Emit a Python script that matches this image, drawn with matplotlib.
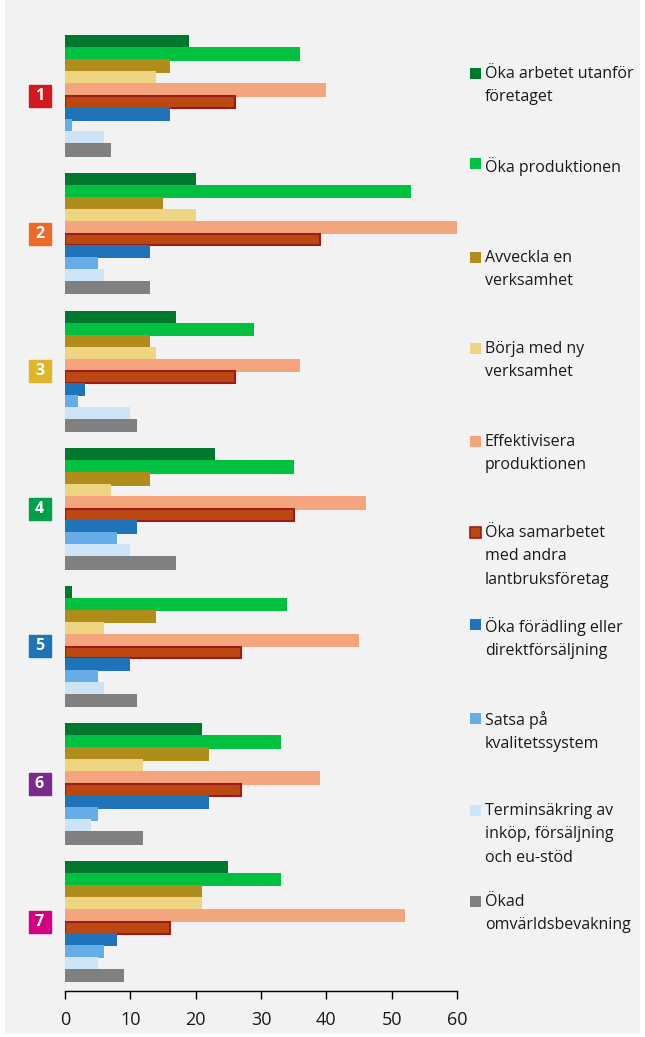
import numpy as np
import matplotlib.pyplot as plt
from matplotlib.patches import Rectangle
from matplotlib.transforms import blended_transform_factory

plt.rcParams["font.family"] = ["Open Sans", "DejaVu Sans"]

# ── Data ──────────────────────────────────────────────────────────────────────
groups = ["1", "2", "3", "4", "5", "6", "7"]
group_colors = ["#d1191f", "#ee6a2b", "#e0b52a", "#00a04a",
                "#1f73b7", "#7b2a8c", "#d4007f"]

series_labels = [
    "Öka arbetet utanför\nföretaget",
    "Öka produktionen",
    "Avveckla en\nverksamhet",
    "Börja med ny\nverksamhet",
    "Effektivisera\nproduktionen",
    "Öka samarbetet\nmed andra\nlantbruksföretag",
    "Öka förädling eller\ndirektförsäljning",
    "Satsa på\nkvalitetssystem",
    "Terminsäkring av\ninköp, försäljning\noch eu-stöd",
    "Ökad\nomvärldsbevakning",
]
series_colors = ["#00782e", "#00c040", "#b08c1a", "#eed582", "#f4a57e",
                 "#bb4810", "#1e73b9", "#66ade8", "#cde3f6", "#808080"]

# values per series, one per group 1..7
oka_arbetet      = [19, 20, 17, 23, 1, 21, 25]
oka_produktionen = [36, 53, 29, 35, 34, 33, 33]
avveckla         = [16, 15, 13, 13, 14, 22, 21]
borja_ny         = [14, 20, 14, 7, 6, 12, 21]
effektivisera    = [40, 60, 36, 46, 45, 39, 52]
samarbete        = [26, 39, 26, 35, 27, 27, 16]
foradling        = [16, 13, 3, 11, 10, 22, 8]
kvalitet         = [1, 5, 2, 8, 5, 5, 6]
terminsakring    = [6, 6, 10, 10, 6, 4, 5]
omvarld          = [7, 13, 11, 17, 11, 12, 9]

series_values = [oka_arbetet, oka_produktionen, avveckla, borja_ny,
                 effektivisera, samarbete, foradling, kvalitet,
                 terminsakring, omvarld]

x_ticks = [0, 10, 20, 30, 40, 50, 60]

# ── Figure ────────────────────────────────────────────────────────────────────
W, H = 645, 1037
fig = plt.figure(figsize=(W / 100, H / 100), dpi=100)
fig.patch.set_facecolor("white")
fig.patches.append(Rectangle((5 / W, 4 / H), 635 / W, 1 - 4 / H,
                             transform=fig.transFigure, facecolor="#f2f2f2",
                             edgecolor="none", zorder=-10))

ax = fig.add_axes([65 / W, 1 - 990.5 / H, 392 / W, 963.3 / H])
ax.set_facecolor("none")

pitch = 0.0872
height = 0.0967
n = len(series_values)
y0 = np.arange(len(groups), dtype=float)
for i, (vals, col) in enumerate(zip(series_values, series_colors)):
    y = y0 + (i - (n - 1) / 2) * pitch
    if i == 5:
        ax.barh(y, vals, height=height - 0.012, color=col, edgecolor="#9c1b1b",
                linewidth=1.5, zorder=2 + i)
    else:
        ax.barh(y, vals, height=height, color=col, edgecolor="none",
                zorder=2 + i)

ax.set_ylim(len(groups) - 0.5, -0.5)
ax.set_xlim(0, 60)
ax.set_xticks(x_ticks)
ax.set_xticklabels([str(t) for t in x_ticks], fontsize=13, color="#1a1a1a")
ax.set_yticks([])
for side in ("left", "right", "top"):
    ax.spines[side].set_visible(False)
ax.spines["bottom"].set_linewidth(1.0)
ax.tick_params(axis="x", direction="out", length=6, width=1, pad=9)

# numbered group markers
tr = blended_transform_factory(ax.transAxes, ax.transData)
xm = (39.5 - 65) / 392
for k, (g, c) in enumerate(zip(groups, group_colors)):
    ax.plot([xm], [k], marker="s", markersize=16.5, color=c,
            transform=tr, clip_on=False)
    ax.text(xm, k, g, transform=tr, color="white", fontsize=11.5,
            fontweight="bold", ha="center", va="center")

# legend at right
leg_y = [73, 164, 257, 348, 441, 532, 624, 718, 810, 901]
for lab, col, yy in zip(series_labels, series_colors, leg_y):
    ec = "#9c1b1b" if col == "#bb4810" else "none"
    fig.patches.append(Rectangle((469.5 / W, 1 - (yy + 5.5) / H), 11 / W, 11 / H,
                                 transform=fig.transFigure, facecolor=col,
                                 edgecolor=ec, linewidth=1.2))
    fig.text(485 / W, 1 - (yy - 7) / H, lab, fontsize=11.5, va="top",
             ha="left", color="#1a1a1a", linespacing=1.62)

fig.savefig("out.png", dpi=100)
